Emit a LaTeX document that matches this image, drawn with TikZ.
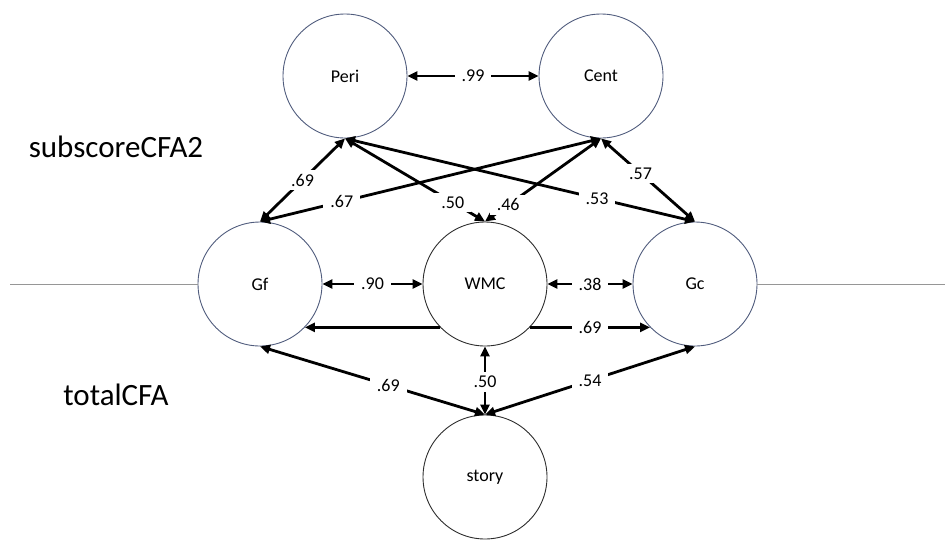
\documentclass[tikz,border=0pt]{standalone}
\usepackage{fontspec}
\setmainfont{Carlito}
\usetikzlibrary{arrows.meta}
\definecolor{slate}{RGB}{80,92,125}
\definecolor{darkc}{RGB}{45,45,45}
\definecolor{sidegray}{RGB}{150,150,150}
\begin{document}
\begin{tikzpicture}[x=1pt,y=-1pt,
  latent/.style={circle, draw=slate, line width=0.9pt, minimum size=124pt, inner sep=0pt, fill=white, font=\fontsize{18}{21}\selectfont},
  darkring/.style={draw=darkc},
  tipk/.tip={Triangle[length=10pt,width=9pt]},
  cor/.style={line width=2.8pt, tipk-tipk},
  onek/.style={line width=2.8pt, -tipk},
  lab/.style={fill=white, inner xsep=7pt, inner ysep=4pt, font=\fontsize{18}{21}\selectfont},
  sideline/.style={draw=sidegray, line width=0.9pt},
  bigtitle/.style={font=\fontsize{31}{37}\selectfont}]
\useasboundingbox (0,0) rectangle (947,539);

% titles
\node[bigtitle] (t1) at (116,147) {subscoreCFA2};
\node[bigtitle] (t2) at (116,395) {totalCFA};

% latent variables
\node[latent] (Peri) at (345,76) {Peri};
\node[latent] (Cent) at (601,76) {Cent};
\node[latent] (Gf) at (260,284) {Gf};
\node[latent, darkring] (WMC) at (485,284) {WMC};
\node[latent] (Gc) at (695,284) {Gc};
\node[latent, darkring] (story) at (485,477) {story};

% side lines
\coordinate (L) at (10,284);
\coordinate (R) at (945,284);
\draw[sideline] (L) -- (Gf.west);
\draw[sideline] (Gc.east) -- (R);

% horizontal correlations
\draw[cor] (Peri.east) -- node[lab] {.99} (Cent.west);
\draw[cor] (Gf.east) -- node[lab] {.90} (WMC.west);
\draw[cor] (WMC.east) -- node[lab] {.38} (Gc.west);
\draw[onek] (WMC.-136) -- (Gf.-44);
\draw[onek] (WMC.-44) -- node[lab] {.69} (Gc.224);

% top cross correlations
\draw[cor] (Peri.south) -- node[lab, pos=0.5] {.69} (Gf.north);
\draw[cor] (Cent.south) -- node[lab, pos=0.76] {.67} (Gf.north);
\draw[cor] (Peri.south) -- node[lab, pos=0.77] {.50} (WMC.north);
\draw[cor] (Cent.south) -- node[lab, pos=0.80] {.46} (WMC.north);
\draw[cor] (Peri.south) -- node[lab, pos=0.72] {.53} (Gc.north);
\draw[cor] (Cent.south) -- node[lab, pos=0.42] {.57} (Gc.north);

% bottom correlations
\draw[cor] (Gf.south) -- node[lab, pos=0.57] {.69} (story.north);
\draw[cor] (WMC.south) -- node[lab, pos=0.52] {.50} (story.north);
\draw[cor] (Gc.south) -- node[lab, pos=0.5] {.54} (story.north);
\end{tikzpicture}
\end{document}
